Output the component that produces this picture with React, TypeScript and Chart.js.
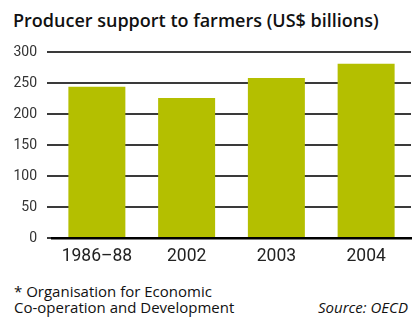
import React, { useEffect, useRef } from "react";
import { Chart, registerables } from "chart.js";

Chart.register(...registerables);

const categories = ["1986–88", "2002", "2003", "2004"];
const supportValues = [244, 226, 258, 281];
const yTicks = [0, 50, 100, 150, 200, 250, 300];

const BAR_COLOR = "#b4bf00";
const FONT = "Roboto, 'DejaVu Sans', sans-serif";
const TEXT_FONT = "'Open Sans', Roboto, sans-serif";

export default function App() {
  const canvasRef = useRef<HTMLCanvasElement | null>(null);

  useEffect(() => {
    const canvas = canvasRef.current;
    if (!canvas) return;
    const chart = new Chart(canvas, {
      type: "bar",
      data: {
        labels: categories,
        datasets: [
          {
            data: supportValues,
            backgroundColor: BAR_COLOR,
            borderWidth: 0,
            barPercentage: 0.635,
            categoryPercentage: 1,
          },
        ],
      },
      options: {
        responsive: false,
        animation: false,
        devicePixelRatio: 1,
        layout: { padding: { top: 12, right: 2, left: 0, bottom: 0 } },
        plugins: {
          legend: { display: false },
          tooltip: { enabled: false },
          title: { display: false },
        },
        scales: {
          x: {
            offset: true,
            grid: { display: false, drawTicks: false },
            border: { display: true, color: "#000", width: 2.5 },
            ticks: {
              color: "#222",
              font: { family: FONT, size: 17.5 },
              padding: 8,
              maxRotation: 0,
              autoSkip: false,
            },
            afterFit: (scale: any) => {
              scale.height = 32;
            },
          },
          y: {
            min: 0,
            max: 300,
            afterBuildTicks: (scale: any) => {
              scale.ticks = yTicks.map((v) => ({ value: v }));
            },
            grid: {
              color: "#3a3a3a",
              lineWidth: 2,
              tickLength: 5,
              drawTicks: true,
            },
            border: { display: false },
            ticks: {
              color: "#333",
              font: { family: FONT, size: 14 },
              padding: 10,
            },
            afterFit: (scale: any) => {
              scale.width = 52;
              scale.paddingTop = 8;
              scale.paddingBottom = 8;
            },
          },
        },
      },
    });
    return () => chart.destroy();
  }, []);

  return (
    <div
      style={{
        position: "absolute",
        left: 0,
        top: 0,
        width: 413,
        height: 318,
        overflow: "hidden",
        background: "#fff",
        fontFamily: TEXT_FONT,
      }}
    >
      <div
        style={{
          position: "absolute",
          left: 13,
          top: 9,
          fontSize: 18,
          fontWeight: 600,
          color: "#111",
          whiteSpace: "nowrap",
          lineHeight: "22px",
        }}
      >
        Producer support to farmers (US$ billions)
      </div>
      <canvas
        ref={canvasRef}
        width={413}
        height={230}
        style={{ position: "absolute", left: 0, top: 40, width: 413, height: 230 }}
      />
      <div
        style={{
          position: "absolute",
          left: 14,
          top: 283,
          fontSize: 15,
          color: "#111",
          lineHeight: "16px",
          whiteSpace: "nowrap",
        }}
      >
        * Organisation for Economic
        <br />
        Co-operation and Development
      </div>
      <div
        style={{
          position: "absolute",
          left: 318,
          top: 299,
          fontSize: 15,
          fontStyle: "italic",
          color: "#111",
          lineHeight: "16px",
          whiteSpace: "nowrap",
        }}
      >
        Source: OECD
      </div>
    </div>
  );
}
